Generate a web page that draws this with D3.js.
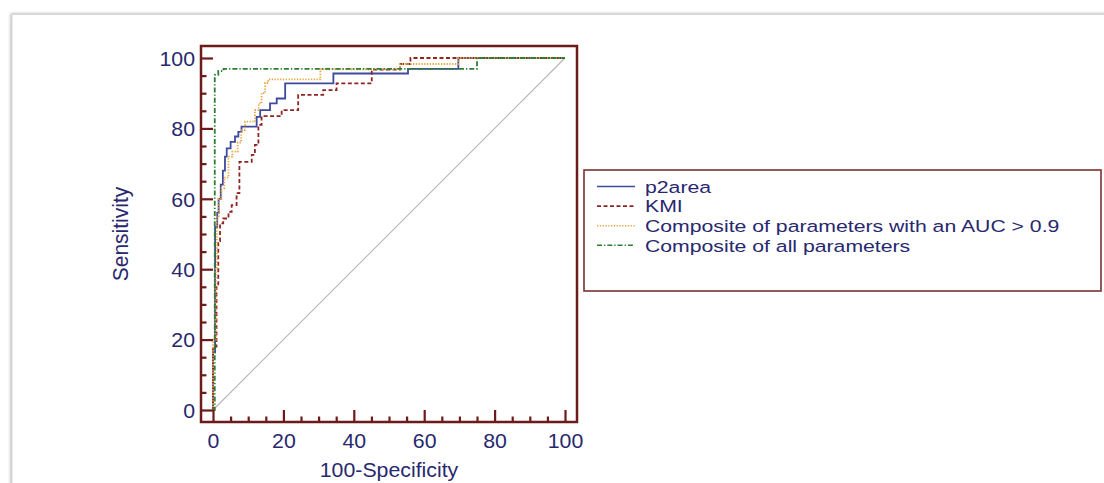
<!DOCTYPE html>
<html><head><meta charset="utf-8">
<script src="https://cdn.jsdelivr.net/npm/d3@7"></script>
<style>
body{margin:0;background:#fff;}
text{font-family:"Liberation Sans",Arial,Helvetica,sans-serif;}
</style>
</head><body>
<svg id="chart" width="1104" height="483"></svg>
<script>
// ---------- data ----------
const xTicks = [0, 20, 40, 60, 80, 100];
const yTicks = [0, 20, 40, 60, 80, 100];
const minorTicks = [5,10,15,25,30,35,45,50,55,65,70,75,85,90,95];
const seriesNames = ["p2area", "KMI", "Composite of parameters with an AUC > 0.9", "Composite of all parameters"];

const p2areaX = [0,0,0.6,1.2,1.6,2.2,2.8,3.4,3.9,5.0,6.25,7.2,8.1,12.4,13.4,16.2,18.1,20.5,34.2,55.4,69.7,100];
const p2areaY = [0,16.4,52,56,60,64,68,72,74.3,76.2,77.7,79,80.5,83.3,85.2,87.1,88.5,92.8,95.6,96.9,100,100];

const kmiX = [0,0,1.0,1.5,2.0,2.9,4.4,5.3,6.7,7.5,11.0,11.9,12.9,13.8,19.5,24.2,31.3,35.1,45.1,53.1,56.1,100];
const kmiY = [0,18,35,48,53,54.4,56.3,58.2,61.6,70.5,72.5,75.3,81,83.5,85.2,89.5,90.9,92.8,96.7,98.3,100,100];

const aucX = [0,0,0.8,1.1,1.6,2.4,3.2,4.4,5.5,7.0,8.0,9.1,11.9,13.0,13.8,14.8,15.7,30.5,53.1,69.7,100];
const aucY = [0,20,40,55,60,63,66,72,73.4,76,79.5,81.9,85.2,87.1,90,92.9,93.9,96.8,98.3,100,100];

const allX = [0,0.5,1.5,3.0,75,100];
const allY = [0,95.2,96.3,96.9,100,100];

// ---------- styles ----------
const seriesStyle = [
  {color:"#3d4a9e", dash:null, w:1.8},
  {color:"#8e2424", dash:"4,2.5", w:1.8},
  {color:"#e8a640", dash:"1.3,1.5", w:1.8},
  {color:"#2e7d32", dash:"5,2,1.3,2", w:1.8}
];
const frameColor = "#6e1a1a";
const textColor = "#28286e";
const SX = 1.065;
const LSX = 1.22;

const svg = d3.select("#chart");

// card with shadow
const defs = svg.append("defs");
const f = defs.append("filter").attr("id","sh").attr("x","-5%").attr("y","-5%").attr("width","110%").attr("height","110%");
f.append("feDropShadow").attr("dx",-1).attr("dy",-0.5).attr("stdDeviation",1.5).attr("flood-color","#777").attr("flood-opacity",0.55);
svg.append("rect").attr("x",12).attr("y",14.5).attr("width",1200).attr("height",600)
  .attr("fill","#fff").attr("stroke","#d6d6d6").attr("stroke-width",1).attr("filter","url(#sh)");

// scales
const x = d3.scaleLinear().domain([0,100]).range([213,565]);
const y = d3.scaleLinear().domain([0,100]).range([410,58]);
const pad = 12;
const fx0 = x(0)-pad, fx1 = x(100)+pad, fy0 = y(100)-pad, fy1 = y(0)+pad;

// diagonal
svg.append("line").attr("x1",x(0)).attr("y1",y(0)).attr("x2",x(100)).attr("y2",y(100))
  .attr("stroke","#b4b4b4").attr("stroke-width",1.1);

// curves
const seriesData = [
  d3.zip(p2areaX, p2areaY),
  d3.zip(kmiX, kmiY),
  d3.zip(aucX, aucY),
  d3.zip(allX, allY)
];
const line = d3.line().x(d=>x(d[0])).y(d=>y(d[1])).curve(d3.curveStepAfter);
seriesData.forEach((d,i)=>{
  const st = seriesStyle[i];
  svg.append("path").datum(d).attr("d",line).attr("fill","none")
    .attr("stroke",st.color).attr("stroke-width",st.w)
    .attr("stroke-dasharray",st.dash);
});

// axes
function styleAxis(g){
  g.select(".domain").remove();
  g.selectAll(".tick line").attr("stroke",frameColor).attr("stroke-width",2.2);
  g.selectAll(".tick text").attr("fill",textColor).style("font-size","20px");
}
const gl = svg.append("g").attr("transform",`translate(${fx0},0)`)
  .call(d3.axisLeft(y).tickValues(yTicks).tickSize(-pad).tickPadding(6).tickFormat(d3.format("d")));
styleAxis(gl);
gl.selectAll(".tick text").attr("dy","0.36em").attr("transform",`scale(${SX},1)`).attr("x",-6/SX);
const glm = svg.append("g").attr("transform",`translate(${fx0},0)`)
  .call(d3.axisLeft(y).tickValues(minorTicks).tickSize(-5.5).tickFormat(""));
styleAxis(glm);

const gb = svg.append("g").attr("transform",`translate(0,${fy1})`)
  .call(d3.axisBottom(x).tickValues(xTicks).tickSize(-pad).tickPadding(12).tickFormat(d3.format("d")));
styleAxis(gb);
gb.selectAll(".tick text").attr("transform",`scale(${SX},1)`);
const gbm = svg.append("g").attr("transform",`translate(0,${fy1})`)
  .call(d3.axisBottom(x).tickValues(minorTicks).tickSize(-5.5).tickFormat(""));
styleAxis(gbm);

// frame
svg.append("rect").attr("x",fx0).attr("y",fy0).attr("width",fx1-fx0).attr("height",fy1-fy0)
  .attr("fill","none").attr("stroke",frameColor).attr("stroke-width",2.5);

// axis titles
svg.append("text").attr("transform",`translate(${(x(0)+x(100))/2},477) scale(${SX},1)`)
  .attr("text-anchor","middle").attr("fill",textColor).style("font-size","20px").text("100-Specificity");
svg.append("text").attr("transform",`translate(128,${(y(0)+y(100))/2}) scale(${SX},1) rotate(-90)`)
  .attr("text-anchor","middle").attr("fill",textColor).style("font-size","21px").text("Sensitivity");

// legend
const lg = svg.append("g");
lg.append("rect").attr("x",584).attr("y",170).attr("width",517).attr("height",121)
  .attr("fill","#fff").attr("stroke","#7a3030").attr("stroke-width",1.6);
seriesNames.forEach((n,i)=>{
  const ly = 186.5 + i*19.6;
  const st = seriesStyle[i];
  lg.append("line").attr("x1",597).attr("x2",635).attr("y1",ly).attr("y2",ly)
    .attr("stroke",st.color).attr("stroke-width",1.6).attr("stroke-dasharray",st.dash);
  lg.append("text").attr("transform",`translate(645,${ly+6.3}) scale(${LSX},1)`)
    .attr("fill",textColor).style("font-size","17.4px").text(n);
});
</script>
</body></html>
